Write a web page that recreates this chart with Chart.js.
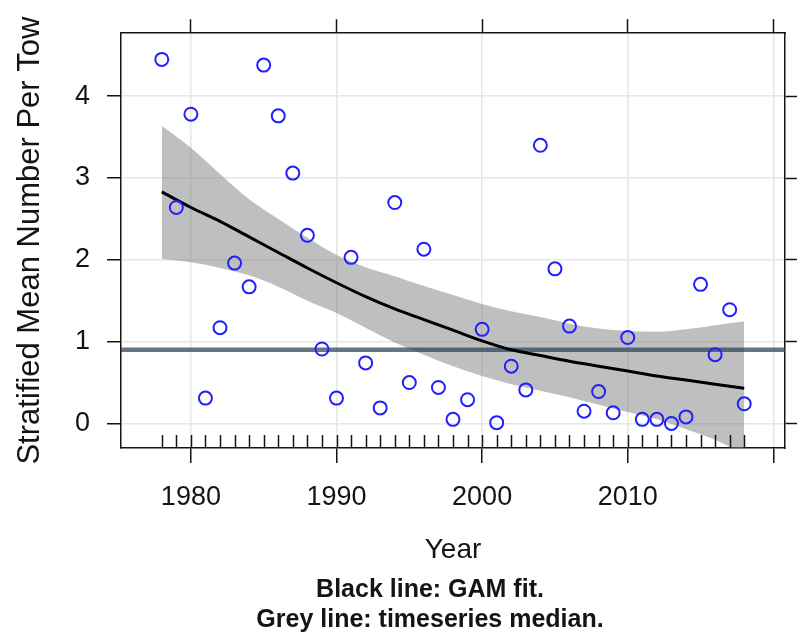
<!DOCTYPE html>
<html>
<head>
<meta charset="utf-8">
<script src="https://cdn.jsdelivr.net/npm/chart.js@4.4.1/dist/chart.umd.min.js"></script>
<style>
  html, body { margin: 0; padding: 0; background: #fff; }
</style>
</head>
<body>
<canvas id="myChart" width="797" height="635"></canvas>
<script>
// survey index, one value per year
const years = [1978, 1979, 1980, 1981, 1982, 1983, 1984, 1985, 1986, 1987,
  1988, 1989, 1990, 1991, 1992, 1993, 1994, 1995, 1996, 1997,
  1998, 1999, 2000, 2001, 2002, 2003, 2004, 2005, 2006, 2007,
  2008, 2009, 2010, 2011, 2012, 2013, 2014, 2015, 2016, 2017, 2018];
const meanPerTow = [4.45, 2.64, 3.78, 0.31, 1.17, 1.96, 1.67, 4.38, 3.76, 3.06,
  2.30, 0.91, 0.31, 2.03, 0.74, 0.19, 2.70, 0.50, 2.13, 0.44,
  0.05, 0.29, 1.15, 0.01, 0.70, 0.41, 3.40, 1.89, 1.19, 0.15,
  0.39, 0.13, 1.05, 0.05, 0.05, 0.00, 0.08, 1.70, 0.84, 1.39, 0.24];

// GAM fit and its band, read every second year
const fitYears = [1978, 1980, 1982, 1984, 1986, 1988, 1990, 1992, 1994, 1996,
  1998, 2000, 2002, 2004, 2006, 2008, 2010, 2012, 2014, 2016, 2018];
const gamFit = [2.83, 2.64, 2.47, 2.28, 2.09, 1.90, 1.72, 1.55, 1.40, 1.27,
  1.14, 1.01, 0.90, 0.83, 0.76, 0.70, 0.64, 0.58, 0.53, 0.48, 0.43];
const gamUpper = [3.64, 3.37, 3.05, 2.74, 2.50, 2.27, 2.06, 1.91, 1.80, 1.68,
  1.57, 1.46, 1.37, 1.30, 1.22, 1.16, 1.13, 1.12, 1.15, 1.20, 1.25];
const gamLower = [2.01, 1.97, 1.90, 1.81, 1.67, 1.50, 1.35, 1.17, 0.99, 0.84,
  0.70, 0.58, 0.48, 0.40, 0.32, 0.23, 0.14, 0.05, -0.07, -0.20, -0.38];

const medianValue = 0.90;

const xTicks = [1980, 1990, 2000, 2010, 2020];
const xTickLabels = ["1980", "1990", "2000", "2010", ""];
const yTicks = [0, 1, 2, 3, 4];
const yTickLabels = ["0", "1", "2", "3", "4"];
const xRange = [1975.2, 2020.8];
const yRange = [-0.30, 4.77];

const captionLines = ["Black line: GAM fit.", "Grey line: timeseries median."];

const ink = "#141414";
const fontFamily = "'Liberation Sans', Arial, sans-serif";
Chart.defaults.font.family = fontFamily;

const pairs = (xs, ys) => xs.map((x, i) => ({ x: x, y: ys[i] }));

// rug of survey years along the bottom
const rugPlugin = {
  id: "rug",
  afterDatasetsDraw(chart) {
    const { ctx, chartArea, scales } = chart;
    ctx.save();
    ctx.strokeStyle = ink;
    ctx.lineWidth = 1.5;
    ctx.beginPath();
    years.forEach((yr) => {
      const px = Math.round(scales.x.getPixelForValue(yr)) + 0.5;
      ctx.moveTo(px, chartArea.bottom);
      ctx.lineTo(px, chartArea.bottom - 13);
    });
    ctx.stroke();
    ctx.restore();
  },
};

// two bold lines under the axis title
const captionPlugin = {
  id: "caption",
  afterDraw(chart) {
    const ctx = chart.ctx;
    ctx.save();
    ctx.fillStyle = ink;
    ctx.font = "bold 25px " + fontFamily;
    ctx.textAlign = "center";
    ctx.textBaseline = "middle";
    ctx.fillText(captionLines[0], 430, 590);
    ctx.fillText(captionLines[1], 430, 620);
    ctx.restore();
  },
};

const edge = { color: ink, width: 1.5 };

const config = {
  type: "scatter",
  data: {
    datasets: [
      {
        label: "Stratified mean",
        data: pairs(years, meanPerTow),
        pointStyle: "circle",
        pointRadius: 6.5,
        pointBorderWidth: 2,
        borderColor: "#1f1fff",
        backgroundColor: "rgba(0,0,0,0)",
        order: 1,
      },
      {
        type: "line",
        label: "GAM fit",
        data: pairs(fitYears, gamFit),
        borderColor: "#000",
        borderWidth: 3,
        pointRadius: 0,
        cubicInterpolationMode: "monotone",
        fill: false,
        order: 2,
      },
      {
        type: "line",
        label: "Median",
        data: [{ x: xRange[0], y: medianValue }, { x: xRange[1], y: medianValue }],
        borderColor: "rgba(40,65,90,0.72)",
        borderWidth: 4.5,
        pointRadius: 0,
        fill: false,
        order: 3,
      },
      {
        type: "line",
        label: "Upper",
        data: pairs(fitYears, gamUpper),
        borderWidth: 0,
        borderColor: "rgba(0,0,0,0)",
        backgroundColor: "rgba(128,128,128,0.5)",
        pointRadius: 0,
        cubicInterpolationMode: "monotone",
        fill: "+1",
        order: 4,
      },
      {
        type: "line",
        label: "Lower",
        data: pairs(fitYears, gamLower),
        borderWidth: 0,
        borderColor: "rgba(0,0,0,0)",
        pointRadius: 0,
        cubicInterpolationMode: "monotone",
        fill: false,
        order: 5,
      },
    ],
  },
  options: {
    responsive: false,
    animation: false,
    events: [],
    layout: { padding: { left: 0, right: 0, top: 0, bottom: 63 } },
    plugins: {
      legend: { display: false },
      tooltip: { enabled: false },
    },
    scales: {
      x: {
        type: "linear",
        position: "bottom",
        min: xRange[0],
        max: xRange[1],
        afterBuildTicks: (s) => { s.ticks = xTicks.map((v) => ({ value: v })); },
        afterFit: (s) => { s.height = 124; },
        ticks: {
          callback: (v, i) => xTickLabels[i],
          font: { size: 27 },
          color: ink,
          padding: 18,
          maxRotation: 0,
          autoSkip: false,
        },
        grid: { color: "#e6e6e6", lineWidth: 1.5, tickColor: ink, tickWidth: 1.5, tickLength: 15 },
        border: edge,
        title: {
          display: true,
          text: "Year",
          font: { size: 28 },
          color: ink,
          padding: { top: 0, bottom: 5 },
        },
      },
      x2: {
        type: "linear",
        position: "top",
        min: xRange[0],
        max: xRange[1],
        afterBuildTicks: (s) => { s.ticks = xTicks.map((v) => ({ value: v })); },
        afterFit: (s) => { s.height = 28; },
        ticks: { display: false },
        grid: { drawOnChartArea: false, tickColor: ink, tickWidth: 1.5, tickLength: 14 },
        border: edge,
      },
      y: {
        type: "linear",
        position: "left",
        min: yRange[0],
        max: yRange[1],
        afterBuildTicks: (s) => { s.ticks = yTicks.map((v) => ({ value: v })); },
        afterFit: (s) => { s.width = 121; },
        ticks: {
          callback: (v, i) => yTickLabels[i],
          font: { size: 27 },
          color: ink,
          padding: 17,
        },
        grid: { color: "#e6e6e6", lineWidth: 1.5, tickColor: ink, tickWidth: 1.5, tickLength: 14 },
        border: edge,
        title: {
          display: true,
          text: "Stratified Mean Number Per Tow",
          font: { size: 31 },
          color: ink,
          padding: { top: 12, bottom: 0 },
        },
      },
      y2: {
        type: "linear",
        position: "right",
        min: yRange[0],
        max: yRange[1],
        afterBuildTicks: (s) => { s.ticks = yTicks.map((v) => ({ value: v })); },
        afterFit: (s) => { s.width = 12; },
        ticks: { display: false },
        grid: { drawOnChartArea: false, tickColor: ink, tickWidth: 1.5, tickLength: 12 },
        border: edge,
      },
    },
  },
  plugins: [rugPlugin, captionPlugin],
};

const ctx = document.getElementById("myChart").getContext("2d");
new Chart(ctx, config);
</script>
</body>
</html>
